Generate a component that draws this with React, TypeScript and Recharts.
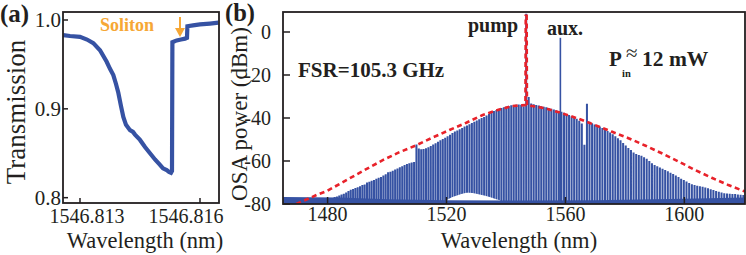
import React from 'react';
import { ComposedChart, Line, Area, XAxis, YAxis } from 'recharts';

// ---------- (a) transmission scan ----------
const transWl = [
  1546.81258, 1546.81275, 1546.813, 1546.813175, 1546.813333, 1546.8135, 1546.813667, 1546.81375,
  1546.813833, 1546.8139, 1546.813958, 1546.814025, 1546.814083, 1546.81415, 1546.81425, 1546.814325,
  1546.814375, 1546.8145, 1546.814625, 1546.81475, 1546.814875, 1546.815, 1546.815075, 1546.815167,
  1546.815225, 1546.815275, 1546.8153, 1546.81531, 1546.815417, 1546.815525, 1546.815625, 1546.815675,
  1546.815685, 1546.815825, 1546.816, 1546.81625, 1546.81646,
];
const transVal = [
  0.983, 0.982, 0.981, 0.978, 0.974, 0.966, 0.953, 0.945,
  0.938, 0.928, 0.918, 0.903, 0.891, 0.882, 0.876, 0.874,
  0.871, 0.865, 0.857, 0.85, 0.843, 0.837, 0.833, 0.831,
  0.829, 0.828, 0.83, 0.975, 0.977, 0.978, 0.979, 0.98,
  0.993, 0.994, 0.995, 0.996, 0.997,
];
const transTicks = [1546.813, 1546.816];
const transYTicks = [0.8, 0.9, 1.0];

// ---------- (b) comb spectrum ----------
const pumpWl = 1546.8; // nm
const fsrGHz = 105.3;
const firstLine = -82; // comb mode index of first peak below
// peak power of each comb line (dBm), mode -82 ... +83 (0 = pump)
const combPeak = [
  -77.5, -77.2, -76.8, -76.5, -76.0, -75.6, -75.2, -74.6, -74.0, -73.4,
  -73.0, -72.6, -72.2, -71.8, -71.2, -70.9, -70.0, -69.6, -69.2, -68.8,
  -68.3, -67.8, -67.4, -66.8, -66.2, -65.2, -65.0, -64.5, -64.0, -63.5,
  -62.9, -62.4, -61.9, -61.4, -61.0, -60.7, -60.5, -52.3, -54.2, -54.5,
  -54.4, -54.1, -53.6, -53.0, -52.3, -51.7, -51.0, -50.4, -49.8, -49.2,
  -48.5, -47.8, -47.0, -46.3, -45.8, -45.2, -44.6, -44.0, -43.5, -42.9,
  -42.3, -41.8, -41.2, -40.6, -40.0, -39.5, -38.8, -38.1, -37.4, -36.8,
  -36.3, -35.8, -35.4, -35.0, -34.7, -34.4, -34.1, -33.9, -33.8, -33.7,
  -33.8, -34.5, 8.5, -30.2, -33.2, -33.6, -33.9, -34.2, -34.5, -34.8,
  -35.0, -35.3, -35.7, -36.1, -36.4, -36.8, -37.1, -37.6, -38.1, -38.6,
  -39.2, -39.8, -40.4, -41.3, -42.6, -52.5, -33.4, -41.7, -42.4, -43.0,
  -43.5, -44.0, -44.6, -45.3, -46.0, -46.8, -47.6, -48.5, -49.4, -50.3,
  -51.6, -52.8, -53.9, -54.9, -56.0, -56.8, -57.2, -57.6, -58.2, -59.0,
  -60.0, -61.0, -61.9, -62.4, -63.0, -63.6, -64.2, -64.8, -65.5, -66.1,
  -66.7, -67.4, -68.2, -68.8, -69.5, -70.2, -70.8, -71.2, -71.5, -71.8,
  -72.0, -72.3, -72.7, -73.1, -73.5, -73.9, -74.3, -74.7, -75.0, -75.1,
  -75.2, -75.3, -75.4, -75.6, -75.7, -75.8,
];
const auxWl = [1558.3, 1558.3];
const auxVal = [-80, -2.7];

// OSA noise floor
const floorWl = [1465, 1484, 1500, 1520, 1545, 1570, 1600, 1620.4];
const floorVal = [-76.8, -77.0, -77.8, -78.2, -78.4, -78.2, -77.6, -77.0];
// empty mound under the lines near 1527 nm
const humpWl = [1520, 1522, 1524, 1526, 1527.5, 1530, 1533, 1536, 1538];
const humpVal = [-78.3, -76.8, -75.8, -75.0, -74.8, -75.2, -76.2, -77.4, -78.3];

// sech^2 fit (red dashed), incl. pump
const envWl = [
  1469.5, 1476.3, 1480, 1487.5, 1493, 1498.7, 1504, 1509.5, 1515, 1521, 1526.5, 1532.2, 1537.2,
  1542.1, 1546.55, 1546.65, 1546.95, 1547.05, 1553.3, 1558.9, 1564.5, 1570, 1575.5, 1581.2,
  1586.8, 1592.4, 1598, 1603.6, 1609.2, 1614.8, 1620.4,
];
const envVal = [
  -80, -75.8, -73.8, -68.0, -63.8, -59.5, -56.0, -52.9, -49.3, -45.6, -42.3, -38.6, -36.3,
  -34.4, -34.0, 7.5, 7.5, -34.0, -35.5, -37.8, -40.4, -43.3, -46.3, -49.4,
  -52.8, -56.4, -60.2, -64.2, -67.8, -71.2, -74.2,
];
const osaXTicks = [1480, 1520, 1560, 1600];
const osaYTicks = [-80, -60, -40, -20, 0];

const BLUE = '#3652a3';
const RED = '#e8222a';
const INK = '#231f20';
const ORANGE = '#f6a735';
const FONT = "'Liberation Serif', 'Times New Roman', serif";

const C_NM_THZ = 299792.458;
const BAR_HALF = 0.34; // nm
const OSA_MIN = -80;

const combData: { x: number; y: number }[] = [];
combPeak.forEach((p, i) => {
  const n = firstLine + i;
  const wl = C_NM_THZ / (C_NM_THZ / pumpWl - (n * fsrGHz) / 1000);
  combData.push({ x: wl - BAR_HALF, y: OSA_MIN });
  combData.push({ x: wl - BAR_HALF, y: p });
  combData.push({ x: wl + BAR_HALF, y: p });
  combData.push({ x: wl + BAR_HALF, y: OSA_MIN });
});

const zip = (xs: number[], ys: number[]) => xs.map((x, i) => ({ x, y: ys[i] }));
const transData = zip(transWl, transVal);
const floorData = zip(floorWl, floorVal);
const humpData = zip(humpWl, humpVal);
const envData = zip(envWl, envVal);
const auxData = zip(auxWl, auxVal);

const tickStyle = { fill: INK, fontSize: 20, fontFamily: FONT };

const ShiftedTick = (props: any) => {
  const { x, y, payload, index } = props;
  const shift = [7, -14][index] ?? 0;
  return (
    <text x={x + shift} y={y} dy="0.71em" textAnchor="middle" fill={INK} fontSize={20} fontFamily={FONT}>
      {payload.value.toFixed(3)}
    </text>
  );
};

export default function App() {
  return (
    <div style={{ position: 'absolute', left: 0, top: 0, width: 746, height: 255, background: '#fff', overflow: 'hidden', fontFamily: FONT }}>
      <div style={{ position: 'absolute', left: 0, top: 0 }}>
        <ComposedChart width={230} height={255} margin={{ top: 12, right: 11, bottom: 2, left: 13 }}>
          <XAxis
            type="number"
            dataKey="x"
            domain={[1546.812575, 1546.816475]}
            allowDataOverflow
            ticks={transTicks}
            height={50}
            axisLine={false}
            tickSize={-5}
            tickMargin={11}
            tickLine={{ stroke: INK, strokeWidth: 1.5 }}
            tick={<ShiftedTick />}
          />
          <YAxis
            type="number"
            dataKey="y"
            domain={[0.794, 1.009]}
            allowDataOverflow
            ticks={transYTicks}
            tickFormatter={(v: number) => v.toFixed(1)}
            width={50}
            axisLine={false}
            tickSize={-5}
            tickMargin={7}
            tickLine={{ stroke: INK, strokeWidth: 1.5 }}
            tick={{ ...tickStyle, fontSize: 21 }}
          />
          <Line
            data={transData}
            dataKey="y"
            type="linear"
            stroke={BLUE}
            strokeWidth={4.2}
            dot={false}
            isAnimationActive={false}
          />
        </ComposedChart>
      </div>

      <div style={{ position: 'absolute', left: 228, top: 0 }}>
        <ComposedChart width={518} height={255} margin={{ top: 12, right: 1, bottom: 1, left: 10 }}>
          <XAxis
            type="number"
            dataKey="x"
            domain={[1465, 1620.4]}
            allowDataOverflow
            ticks={osaXTicks}
            height={50}
            axisLine={false}
            tickSize={-7}
            tickMargin={10}
            tickLine={{ stroke: INK, strokeWidth: 1.5 }}
            tick={tickStyle}
          />
          <YAxis
            type="number"
            dataKey="y"
            domain={[OSA_MIN, 9.3]}
            allowDataOverflow
            ticks={osaYTicks}
            width={45}
            axisLine={false}
            tickSize={-7}
            tickMargin={19}
            tickLine={{ stroke: INK, strokeWidth: 1.5 }}
            tick={tickStyle}
          />
          <Area
            data={combData}
            dataKey="y"
            type="linear"
            baseValue={OSA_MIN}
            stroke="none"
            fill={BLUE}
            fillOpacity={1}
            isAnimationActive={false}
          />
          <Area
            data={humpData}
            dataKey="y"
            type="monotone"
            baseValue={OSA_MIN}
            stroke="none"
            fill="#ffffff"
            fillOpacity={1}
            isAnimationActive={false}
          />
          <Area
            data={floorData}
            dataKey="y"
            type="linear"
            baseValue={OSA_MIN}
            stroke="none"
            fill={BLUE}
            fillOpacity={1}
            isAnimationActive={false}
          />
          <Line data={auxData} dataKey="y" type="linear" stroke={BLUE} strokeWidth={1.6} dot={false} isAnimationActive={false} />
          <Line
            data={envData}
            dataKey="y"
            type="linear"
            stroke={RED}
            strokeWidth={2.6}
            strokeDasharray="5 3.5"
            dot={false}
            isAnimationActive={false}
          />
        </ComposedChart>
      </div>

      <svg width={746} height={255} style={{ position: 'absolute', left: 0, top: 0, pointerEvents: 'none', fontFamily: FONT }} fill={INK}>
        <rect x={63} y={12} width={156} height={191} fill="none" stroke={INK} strokeWidth={1.8} />
        <rect x={283} y={12} width={462} height={192} fill="none" stroke={INK} strokeWidth={1.8} />

        <text x={0} y={22} fontSize={25} fontWeight="bold">(a)</text>
        <text x={225} y={21} fontSize={24.5} fontWeight="bold">(b)</text>

        <text transform="translate(25,112) rotate(-90)" textAnchor="middle" fontSize={27}>Transmission</text>
        <text transform="translate(247,114) rotate(-90)" textAnchor="middle" fontSize={23}>OSA power (dBm)</text>
        <text x={145} y={248} textAnchor="middle" fontSize={22.5}>Wavelength (nm)</text>
        <text x={519} y={248} textAnchor="middle" fontSize={22.5}>Wavelength (nm)</text>

        <text x={100} y={31} fontSize={18} fontWeight="bold" fill={ORANGE}>Soliton</text>
        <line x1={180} y1={17} x2={180} y2={30} stroke={ORANGE} strokeWidth={2} />
        <polygon points="175,28 185,28 180,37" fill={ORANGE} />

        <text x={468} y={32} fontSize={20} fontWeight="bold">pump</text>
        <text x={547} y={35} fontSize={20} fontWeight="bold">aux.</text>
        <text x={298} y={77} fontSize={21} fontWeight="bold">FSR=105.3 GHz</text>
        <text x={609} y={66} fontSize={21} fontWeight="bold">P</text>
        <text x={622} y={77} fontSize={10.5} fontWeight="bold">in</text>
        <text x={626} y={60} fontSize={21}>≈</text>
        <text x={642} y={66} fontSize={21.5} fontWeight="bold">12 mW</text>
      </svg>
    </div>
  );
}
